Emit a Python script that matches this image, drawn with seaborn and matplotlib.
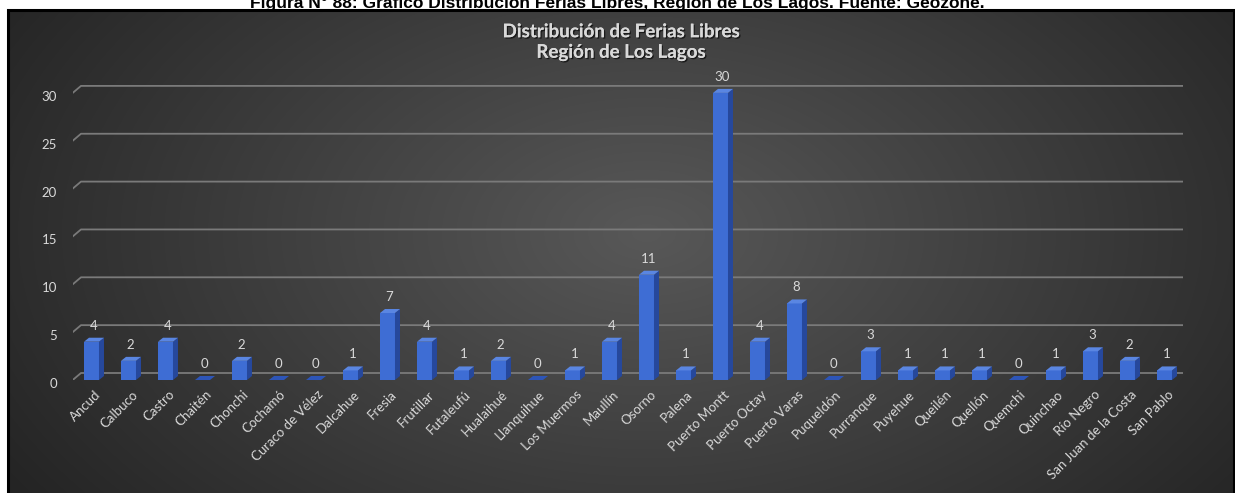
import numpy as np
import matplotlib
matplotlib.use("Agg")
import matplotlib.pyplot as plt
import matplotlib.patheffects as pe
from matplotlib.patches import Polygon, Rectangle
from matplotlib.transforms import ScaledTranslation, IdentityTransform
import seaborn as sns

comunas = ["Ancud", "Calbuco", "Castro", "Chaitén", "Chonchi", "Cochamó",
           "Curaco de Vélez", "Dalcahue", "Fresia", "Frutillar", "Futaleufú",
           "Hualaihué", "Llanquihue", "Los Muermos", "Maullín", "Osorno",
           "Palena", "Puerto Montt", "Puerto Octay", "Puerto Varas",
           "Puqueldón", "Purranque", "Puyehue", "Queilén", "Quellón",
           "Quemchi", "Quinchao", "Río Negro", "San Juan de la Costa",
           "San Pablo"]
ferias = [4, 2, 4, 0, 2, 0, 0, 1, 7, 4, 1, 2, 0, 1, 4, 11, 1, 30, 4, 8,
          0, 3, 1, 1, 1, 0, 1, 3, 2, 1]
y_ticks = [0, 5, 10, 15, 20, 25, 30]

figure_title = ("Figura N° 88: Gráfico Distribución Ferias Libres, "
                "Región de Los Lagos. Fuente: Geozone.")
chart_title = "Distribución de Ferias Libres\nRegión de Los Lagos"

sns.set_theme(style="white")
plt.rcParams["font.family"] = ["Lato", "DejaVu Sans"]

W, H, DPI = 1235, 493, 100
fig = plt.figure(figsize=(W / DPI, H / DPI), dpi=DPI, facecolor="white")

def fx(px):
    return px / W

def fy(py_top):
    return 1 - py_top / H

# document caption above the chart panel (its upper part runs off the page)
fig.text(0.5, fy(8), figure_title, ha="center", va="baseline",
         fontsize=12.5, fontweight="bold", color="black",
         family="Liberation Sans")

# dark panel with radial shading; its lower edge runs past the page
px0, px1, py0 = 8, 1234, 10
bg = fig.add_axes([fx(px0), -0.02, fx(px1 - px0), fy(py0) + 0.02])
gh, gw = 200, 500
yy, xx = np.mgrid[0:gh, 0:gw]
cx, cy = 0.52 * gw, 0.45 * gh
d = np.sqrt(((xx - cx) / (0.62 * gw)) ** 2 + ((yy - cy) / (0.95 * gh)) ** 2)
d = np.clip(d, 0, 1)
c_in = np.array([0x58, 0x58, 0x58]) / 255
c_out = np.array([0x24, 0x24, 0x24]) / 255
img = c_in[None, None, :] * (1 - d[..., None]) + c_out[None, None, :] * d[..., None]
bg.imshow(img, aspect="auto", extent=[0, 1, 0, 1], interpolation="bilinear")
bg.set_xlim(0, 1)
bg.set_ylim(0, 1)
bg.axis("off")
bg.add_patch(Rectangle((0, 0), 1, 1, transform=bg.transAxes, fill=False,
                       edgecolor="black", lw=2.2, clip_on=False))

# main plotting area (front plane of the bars)
ax_left, ax_right, ax_bottom = 73, 1183, 380
ymax = 32
px_per_unit = 9.57
ax = fig.add_axes([fx(ax_left), fy(ax_bottom), fx(ax_right - ax_left),
                   (ymax * px_per_unit) / H])
ax.patch.set_alpha(0)

sns.barplot(x=comunas, y=ferias, color="#3e6dd4", saturation=1, width=0.405,
            ax=ax, zorder=3, linewidth=0)
ax.set_xlim(-0.5, len(comunas) - 0.5)
ax.set_ylim(0, ymax)
for s in ax.spines.values():
    s.set_visible(False)
ax.set_yticks([])
ax.tick_params(axis="x", length=0, pad=6)
ax.set_xticks(range(len(comunas)))
ax.set_xticklabels(comunas, rotation=45, ha="right", rotation_mode="anchor",
                   color="#d9d9d9", fontsize=9.5)
for lab in ax.get_xticklabels():
    lab.set_transform(lab.get_transform() +
                      ScaledTranslation(3 / DPI, 0, fig.dpi_scale_trans))

# back wall gridlines with the short perspective segment on the left
to_disp = ax.transData.transform
bx, by = 8, 7
grid_col = "#7a7a7a"
for v in y_ticks:
    x0, y0 = to_disp((-0.5, v))
    x1, _ = to_disp((len(comunas) - 0.5, v))
    ax.add_line(plt.Line2D([x0 - 5, x0 + bx, x1 + bx],
                           [y0 - 4, y0 + by, y0 + by],
                           transform=IdentityTransform(), color=grid_col,
                           lw=1.3, zorder=1))
    ax.text(x0 - 16, y0 - 4, str(v), transform=IdentityTransform(),
            ha="right", va="center", color="#d9d9d9", fontsize=9.5)

# depth faces of each bar
dx, dy = 5, 4
for bar, v in zip(ax.patches, ferias):
    (l, b), (r, t) = to_disp([(bar.get_x(), 0),
                              (bar.get_x() + bar.get_width(), v)])
    side = Polygon([(r, b), (r + dx, b + dy), (r + dx, t + dy), (r, t)],
                   closed=True, transform=IdentityTransform(),
                   facecolor="#26489c", edgecolor="none", zorder=3)
    top = Polygon([(l, t), (l + dx, t + dy), (r + dx, t + dy), (r, t)],
                  closed=True, transform=IdentityTransform(),
                  facecolor="#5a86e2" if v > 0 else "#2d55b8",
                  edgecolor="none", zorder=3)
    ax.add_patch(side)
    ax.add_patch(top)
    ax.text((l + r) / 2 + 2, t + dy + 6, str(v), transform=IdentityTransform(),
            ha="center", va="bottom", color="#d9d9d9", fontsize=9.5)

# chart title with soft shadow
fig.text(fx(621), fy(42), chart_title, ha="center", va="center",
         fontsize=13.5, fontweight="bold", color="#d9d9d9", linespacing=1.25,
         path_effects=[pe.withSimplePatchShadow(offset=(1, -1),
                                                shadow_rgbFace="black",
                                                alpha=0.6), pe.Normal()])

fig.savefig("out.png", dpi=DPI, facecolor="white")
